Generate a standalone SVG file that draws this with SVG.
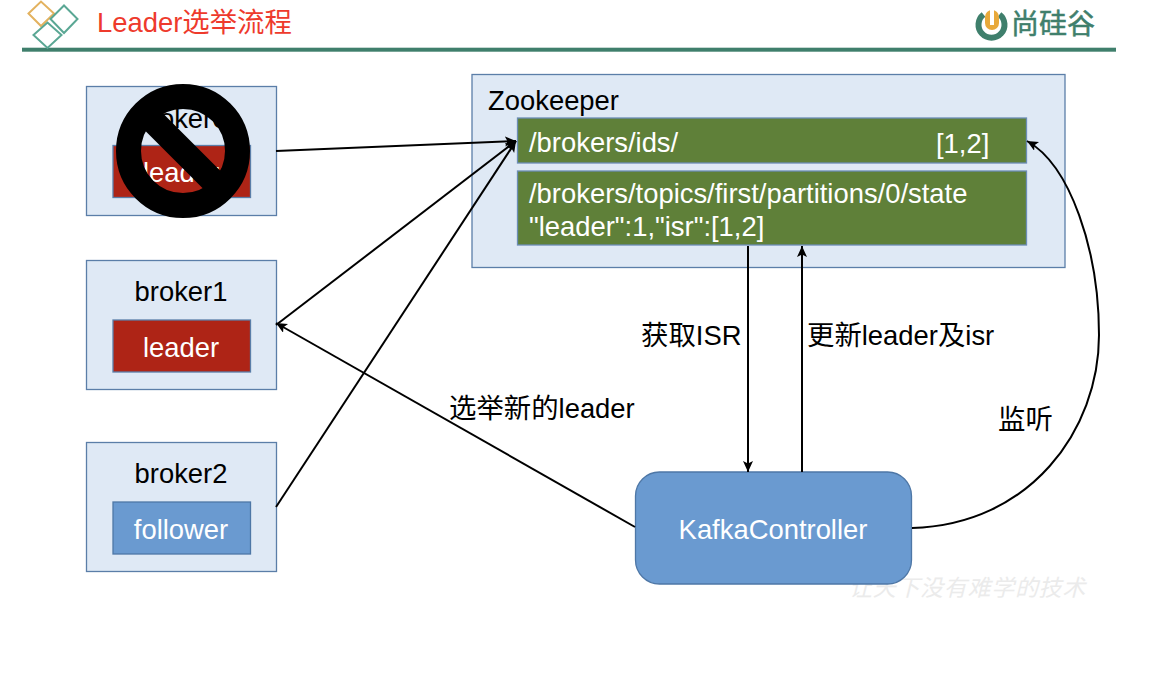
<svg xmlns="http://www.w3.org/2000/svg" width="1160" height="674" viewBox="0 0 1160 674">
<style>
text{font-family:"Liberation Sans","Noto Sans CJK SC",sans-serif;font-size:27.4px;fill:#000}
.w{fill:#fff}
.m{text-anchor:middle}
.box{fill:#dfe9f5;stroke:#5b7ea8;stroke-width:1.3}
.red{fill:#ae2416;stroke:#5b7ea8;stroke-width:1.3}
.blue{fill:#6a9ad0;stroke:#4e77a6;stroke-width:1.3}
.green{fill:#5f8039;stroke:#6c8db5;stroke-width:1.3}
.c{fill:none;stroke:#000;stroke-width:2}
</style>
<defs>
<marker id="a" markerUnits="userSpaceOnUse" markerWidth="13" markerHeight="12" refX="11" refY="5" orient="auto"><path d="M0 0L11 5L0 10L2.500 5Z" fill="#000"/></marker>
</defs>
<g id="header">
<rect x="22" y="47.700" width="1094" height="4" fill="#3f7f6c"/>
<path d="M28.500 13.500L41 1.500L54 13.500L41 26Z" fill="none" stroke="#e3b25f" stroke-width="2"/>
<path d="M50.500 19L64 5.500L77.500 19L64 33Z" fill="none" stroke="#5aa794" stroke-width="2"/>
<path d="M33.500 35L47.500 22.500L61.500 35L47.500 48Z" fill="none" stroke="#5aa794" stroke-width="2"/>
<text x="97" y="32" style="fill:#ee3a2c">Leader选举流程</text>
<path d="M983.500 14.500A13 13 0 1 0 999.500 14.500" fill="none" stroke="#3f7f6c" stroke-width="6"/>
<rect x="985" y="10" width="14" height="20" rx="7" fill="#e8a93a"/>
<rect x="990" y="10" width="4" height="15" fill="#fff"/>
<text x="1011" y="34" style="font-size:28px;fill:#3f7f6c;stroke:#3f7f6c;stroke-width:.5">尚硅谷</text>
</g>
<g id="broker0">
<rect class="box" x="86.500" y="86.500" width="190" height="129"/>
<text class="m" x="181" y="128">broker0</text>
<rect class="red" x="113" y="145.500" width="137.500" height="52"/>
<text class="m w" x="181" y="182">leader</text>
</g>
<g id="prohibited">
<circle cx="183" cy="151" r="54.500" fill="none" stroke="#000" stroke-width="25"/>
<path d="M144.500 112.500L221.500 189.500" stroke="#000" stroke-width="25"/>
</g>
<g id="broker1">
<rect class="box" x="86.500" y="260.500" width="190" height="129"/>
<text class="m" x="181" y="301">broker1</text>
<rect class="red" x="113" y="320" width="137.500" height="52"/>
<text class="m w" x="181" y="357">leader</text>
</g>
<g id="broker2">
<rect class="box" x="86.500" y="442.500" width="190" height="129"/>
<text class="m" x="181" y="483">broker2</text>
<rect class="blue" x="113" y="502" width="137.500" height="52"/>
<text class="m w" x="181" y="539">follower</text>
</g>
<g id="zookeeper">
<rect class="box" x="472" y="74.500" width="593" height="193"/>
<text x="488" y="110">Zookeeper</text>
</g>
<g id="ids">
<rect class="green" x="517.500" y="118" width="509" height="45"/>
<text class="w" x="529" y="152">/brokers/ids/</text>
<text class="w" x="936" y="153">[1,2]</text>
</g>
<g id="state">
<rect class="green" x="517.500" y="171" width="509" height="74"/>
<text class="w" x="529" y="203">/brokers/topics/first/partitions/0/state</text>
<text class="w" x="529" y="236">"leader":1,"isr":[1,2]</text>
</g>
<g id="watermark">
<text x="849" y="596" style="font-size:23px;letter-spacing:.7px;font-style:italic;fill:#ebebeb">让天下没有难学的技术</text>
</g>
<g id="controller">
<rect class="blue" x="635.500" y="472" width="276" height="112" rx="24"/>
<text class="m w" x="773" y="539">KafkaController</text>
</g>
<g id="connectors">
<path class="c" marker-end="url(#a)" d="M276 151L516 141"/>
<path class="c" marker-end="url(#a)" d="M276 325L516 141"/>
<path class="c" marker-end="url(#a)" d="M276 507L516 141"/>
<path class="c" marker-end="url(#a)" d="M635 527L276 323"/>
<path class="c" marker-end="url(#a)" d="M748 246V472"/>
<path class="c" marker-end="url(#a)" d="M802 472V246"/>
<path class="c" marker-end="url(#a)" d="M912 528C1030 525 1099 430 1099 335C1099 250 1070 165 1027 141"/>
</g>
<g id="labels">
<text x="641" y="345">获取ISR</text>
<text x="807" y="345">更新leader及isr</text>
<text x="449" y="418">选举新的leader</text>
<text x="998" y="429">监听</text>
</g>
</svg>
